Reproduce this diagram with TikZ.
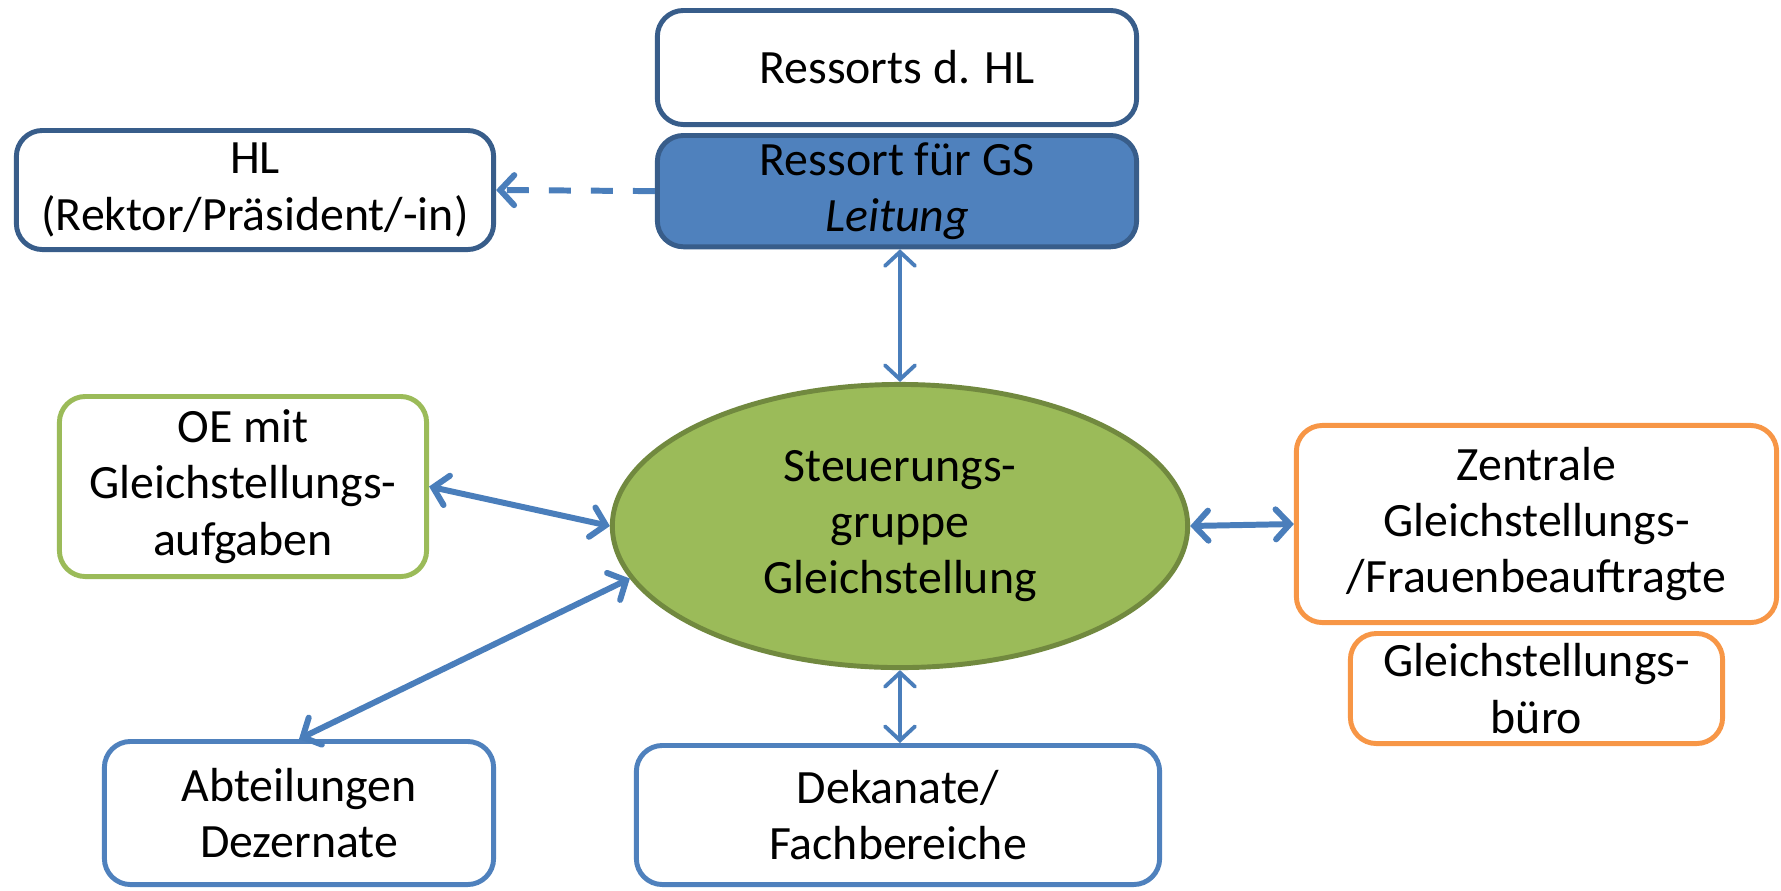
\documentclass[tikz,border=0pt]{standalone}
\usepackage{fontspec}
\setmainfont{Carlito}
\usetikzlibrary{positioning,arrows.meta,shapes.geometric}
\definecolor{boxblue}{HTML}{4F81BD}
\definecolor{darkblue}{HTML}{385D8A}
\definecolor{leafgreen}{HTML}{9BBB59}
\definecolor{darkgreen}{HTML}{71893F}
\definecolor{orgorange}{HTML}{F79646}
\definecolor{arrowblue}{HTML}{4A7EBB}
\tikzset{
  >={Straight Barb[length=1.4mm,width=3mm,line cap=round]},
  orgbox/.style={draw,rounded corners=2.6mm,line width=1.4pt,fill=white,
    align=center,inner sep=2pt,font=\fontsize{13.6}{16}\selectfont},
  leadbox/.style={orgbox,draw=darkblue},
  unitbox/.style={orgbox,draw=boxblue},
  taskbox/.style={orgbox,draw=leafgreen},
  gsbox/.style={orgbox,draw=orgorange},
  chairbox/.style={orgbox,draw=darkblue,fill=boxblue},
  hub/.style={ellipse,draw=darkgreen,fill=leafgreen,line width=1.4pt,
    align=center,inner sep=0pt,font=\fontsize{13.6}{16}\selectfont},
  link/.style={<->,arrowblue,line width=1.1pt,line cap=round},
  thicklink/.style={link,line width=1.7pt},
  report/.style={->,arrowblue,line width=1.7pt,dash pattern=on 2.2mm off 2mm},
}

\begin{document}
\begin{tikzpicture}[x=0.01cm,y=-0.01cm]
  \useasboundingbox (0,0) rectangle (1781,890);
  \node[leadbox,minimum width=4.79cm,minimum height=1.14cm] (ressorts)
    at (897,67.5) {Ressorts d. HL};
  \node[chairbox,minimum width=4.79cm,minimum height=1.10cm,
    below=0.06cm of ressorts] (gs) {Ressort für GS\\\textit{Leitung}};
  \node[leadbox,minimum width=4.77cm,minimum height=1.19cm] (hl)
    at (255,190) {HL\\(Rektor/Präsident/-in)};
  \node[taskbox,minimum width=3.67cm,minimum height=1.80cm] (oe)
    at (243,486.5) {OE mit\\Gleichstellungs-\\aufgaben};
  \node[hub,minimum width=5.75cm,minimum height=2.83cm] (steuer)
    at (900,526) {Steuerungs-\\gruppe\\Gleichstellung};
  \node[gsbox,minimum width=4.80cm,minimum height=1.97cm] (zentrale)
    at (1536.5,524) {Zentrale\\Gleichstellungs-\\/Frauenbeauftragte};
  \node[gsbox,minimum width=3.72cm,minimum height=1.10cm,
    below=0.06cm of zentrale] (buero) {Gleichstellungs-\\büro};
  \node[unitbox,minimum width=3.89cm,minimum height=1.43cm] (abt)
    at (299,813) {Abteilungen\\Dezernate};
  \node[unitbox,minimum width=5.23cm,minimum height=1.39cm] (dekanat)
    at (898,815) {Dekanate/\\Fachbereiche};

  \draw[report] (gs.west) -- (hl.east);
  \draw[link] (steuer.north |- gs.south) -- (steuer.north);
  \draw[thicklink] (oe.east) -- (steuer.west);
  \draw[thicklink] (abt.north) -- (steuer.191);
  \draw[thicklink] (steuer.east) -- (zentrale.west);
  \draw[link] (steuer.south) -- (steuer.south |- dekanat.north);
\end{tikzpicture}
\end{document}
